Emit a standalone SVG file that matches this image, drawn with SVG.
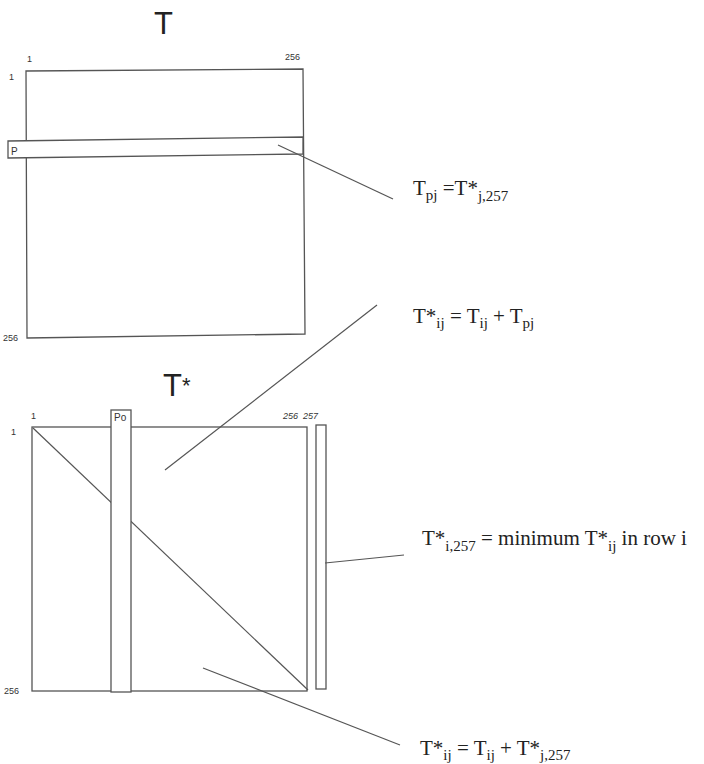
<svg xmlns="http://www.w3.org/2000/svg" width="704" height="764" viewBox="0 0 704 764">
<style>
.box{fill:none;stroke:#555;stroke-width:1.3}
.ln{fill:none;stroke:#555;stroke-width:1.2}
.sm{font-family:"Liberation Sans",Arial,sans-serif;font-size:9px;fill:#333}
.it{font-style:italic}
.ttl{font-family:"Liberation Sans",Arial,sans-serif;font-size:31px;fill:#222}
.eq{font-family:"Liberation Serif","Times New Roman",serif;font-size:21px;fill:#222}
.sub{font-size:15px}
</style>
<rect width="704" height="764" fill="#fff"/>
<g id="matrixT">
<text class="ttl" x="154" y="34">T</text>
<polygon class="box" points="26,71 303,69 305,334 27,338"/>
<text class="sm" x="27" y="62">1</text>
<text class="sm" x="285" y="60">256</text>
<text class="sm" x="9" y="80">1</text>
<text class="sm" x="3" y="341">256</text>
</g>
<g id="stripP">
<polygon class="box" points="8,141 303,137 303,154 8,158" style="fill:#fff"/>
<text class="sm" x="11" y="155" style="font-size:10px">P</text>
</g>
<g id="matrixTstar">
<text class="ttl" x="163" y="396">T</text>
<text class="ttl" x="182" y="393" style="font-size:22px">*</text>
<rect class="box" x="32" y="427" width="275" height="264"/>
<line class="ln" x1="33" y1="428" x2="308" y2="690"/>
<text class="sm" x="31" y="419">1</text>
<text class="sm" x="11" y="435">1</text>
<text class="sm it" x="283" y="419">256</text>
<text class="sm it" x="303" y="419">257</text>
<text class="sm" x="4" y="694">256</text>
</g>
<g id="stripPo">
<rect class="box" x="111" y="410" width="20" height="282" style="fill:#fff"/>
<text class="sm" x="114" y="421" style="font-size:10px">Po</text>
</g>
<g id="col257">
<rect class="box" x="316" y="425" width="10" height="264"/>
</g>
<g id="connectors">
<line class="ln" x1="278" y1="145" x2="393" y2="199"/>
<line class="ln" x1="165" y1="470" x2="377" y2="305"/>
<line class="ln" x1="325" y1="563" x2="404" y2="555"/>
<line class="ln" x1="203" y1="668" x2="400" y2="745"/>
</g>
<g id="labels">
<text class="eq" x="413" y="195">T<tspan class="sub" dy="5">pj</tspan><tspan dy="-5"> =T*</tspan><tspan class="sub" dy="6">j,257</tspan></text>
<text class="eq" x="413" y="323">T*<tspan class="sub" dy="5">ij</tspan><tspan dy="-5"> = T</tspan><tspan class="sub" dy="5">ij</tspan><tspan dy="-5"> + T</tspan><tspan class="sub" dy="5">pj</tspan></text>
<text class="eq" x="422" y="545">T*<tspan class="sub" dy="6">i,257</tspan><tspan dy="-6"> = minimum T*</tspan><tspan class="sub" dy="6">ij</tspan><tspan dy="-6"> in row i</tspan></text>
<text class="eq" x="420" y="755">T*<tspan class="sub" dy="5">ij</tspan><tspan dy="-5"> = T</tspan><tspan class="sub" dy="5">ij</tspan><tspan dy="-5"> + T*</tspan><tspan class="sub" dy="5">j,257</tspan></text>
</g>
</svg>
